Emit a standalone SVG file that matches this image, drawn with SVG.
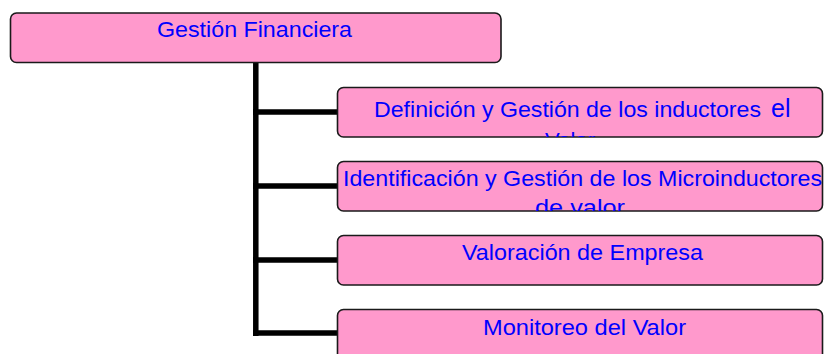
<svg xmlns="http://www.w3.org/2000/svg" width="824" height="354" viewBox="0 0 824 354">
<style>
.box{fill:#ff99cc;stroke:#1a1a1a;stroke-width:1.6}
.t{font-family:"Liberation Sans",Arial,sans-serif;font-size:22px;fill:#0000ff}
.conn{stroke:#000;stroke-width:5.5;fill:none}
</style>
<defs>
<clipPath id="c1"><rect x="337.5" y="87.5" width="485" height="49.5" rx="6"/></clipPath>
<clipPath id="c2"><rect x="337.5" y="161.5" width="485" height="49.5" rx="6"/></clipPath>
</defs>
<rect width="824" height="354" fill="#fff"/>
<g id="connectors">
<path class="conn" d="M255.8 62 V336 M253 112 H337 M253 186 H337 M253 260 H337 M253 333 H337"/>
</g>
<g id="n0">
<rect class="box" x="10.5" y="13" width="490.5" height="49.5" rx="6"/>
<text class="t" x="157" y="37.3" textLength="195" lengthAdjust="spacingAndGlyphs">Gestión Financiera</text>
</g>
<g id="n1">
<rect class="box" x="337.5" y="87.5" width="485" height="49.5" rx="6"/>
<g clip-path="url(#c1)">
<text class="t" x="374" y="116.5" textLength="387" lengthAdjust="spacingAndGlyphs">Definición y Gestión de los inductores</text>
<text class="t" x="771" y="116.5" style="font-size:25px">el</text>
<text class="t" x="570" y="148" text-anchor="middle" textLength="50" lengthAdjust="spacingAndGlyphs">Valor</text>
</g>
</g>
<g id="n2">
<rect class="box" x="337.5" y="161.5" width="485" height="49.5" rx="6"/>
<g clip-path="url(#c2)">
<text class="t" x="343" y="186" textLength="479" lengthAdjust="spacingAndGlyphs">Identificación y Gestión de los Microinductores</text>
<text class="t" x="580" y="215" text-anchor="middle" textLength="90" lengthAdjust="spacingAndGlyphs">de valor</text>
</g>
</g>
<g id="n3">
<rect class="box" x="337.5" y="235.5" width="485" height="49.5" rx="6"/>
<text class="t" x="462" y="260" textLength="241" lengthAdjust="spacingAndGlyphs">Valoración de Empresa</text>
</g>
<g id="n4">
<rect class="box" x="337.5" y="309.5" width="485" height="52" rx="6"/>
<text class="t" x="483" y="335" textLength="203" lengthAdjust="spacingAndGlyphs">Monitoreo del Valor</text>
</g>
</svg>
